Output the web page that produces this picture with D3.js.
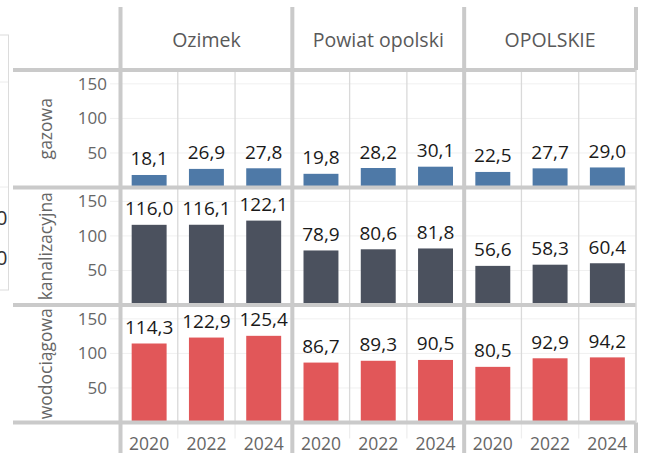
<!DOCTYPE html>
<html>
<head>
<meta charset="utf-8">
<script src="https://cdn.jsdelivr.net/npm/d3@7"></script>
<style>
  html, body { margin: 0; padding: 0; background: #ffffff; }
  svg { display: block; }
  text { font-family: "Open Sans", "Noto Sans", sans-serif; }
</style>
</head>
<body>
<svg id="chart" width="646" height="453"></svg>
<script>
// Długość sieci (km na 100 km²) – gmina, powiat, województwo
const regions = ["Ozimek", "Powiat opolski", "OPOLSKIE"];
const networks = ["gazowa", "kanalizacyjna", "wodociągowa"];
const years = ["2020", "2022", "2024"];
const yTicks = [50, 100, 150];

// values per region, in year order
const gazowa        = [[18.1, 26.9, 27.8], [19.8, 28.2, 30.1], [22.5, 27.7, 29.0]];
const kanalizacyjna = [[116.0, 116.1, 122.1], [78.9, 80.6, 81.8], [56.6, 58.3, 60.4]];
const wodociagowa   = [[114.3, 122.9, 125.4], [86.7, 89.3, 90.5], [80.5, 92.9, 94.2]];

const seriesByNetwork = [gazowa, kanalizacyjna, wodociagowa];
const barColors = ["#4e79a7", "#4b515e", "#e15759"];

const svg = d3.select("#chart");
const W = 646, H = 453;

// grid of panes
const paneLeft = 120.5, paneRight = 636;
const headerTop = 7, headerBottom = 70;
const rowH = 117.5;
const colX = d3.scaleBand().domain(regions).range([paneLeft, paneRight]);
const rowY = d3.scaleBand().domain(networks).range([headerBottom, headerBottom + rowH * 3]);
const gridBottom = headerBottom + rowH * 3;

const heavy = "#cacaca", thin = "#d9d9d9", faint = "#f0f0f0";
const fmt = d3.formatLocale({ decimal: ",", thousands: " ", grouping: [3], currency: ["", " zł"] }).format(".1f");

// panel partly visible on the left edge
const side = svg.append("g");
side.append("rect").attr("x", -20).attr("y", 35).attr("width", 28.5).attr("height", 255)
  .attr("fill", "#fff").attr("stroke", "#dcdcdc").attr("stroke-width", 1);
[82, 187].forEach(y => side.append("line").attr("x1", 0).attr("x2", 8).attr("y1", y).attr("y2", y)
  .attr("stroke", "#ececec"));
[218, 258].forEach(y => side.append("text").attr("x", 7.5).attr("y", y).attr("dy", "0.35em")
  .attr("text-anchor", "end").attr("font-size", 20).attr("fill", "#333").text("0"));

// per-row value scales
const y = d3.scaleLinear().domain([0, 170]).range([rowH, 0]);

networks.forEach((net, r) => {
  const top = rowY(net);
  const g = svg.append("g").attr("transform", `translate(0,${top})`);

  // light gridlines
  g.selectAll("line.grid").data(yTicks).join("line")
    .attr("x1", 110).attr("x2", paneRight)
    .attr("y1", d => y(d)).attr("y2", d => y(d))
    .attr("stroke", faint).attr("stroke-width", 1);

  // y axis
  const axis = g.append("g").attr("transform", `translate(107,0)`)
    .call(d3.axisLeft(y).tickValues(yTicks).tickSize(0).tickPadding(0));
  axis.select(".domain").remove();
  axis.selectAll("text").attr("font-size", 17).attr("fill", "#666666")
    .attr("font-family", "'Open Sans', sans-serif").attr("x", 0);

  // row label
  g.append("text")
    .attr("transform", `translate(46,${rowH / 2}) rotate(-90)`)
    .attr("text-anchor", "middle").attr("dy", "0.35em")
    .attr("font-size", 17.5).attr("fill", "#666666").text(net);

  regions.forEach((reg, c) => {
    const x = d3.scaleBand().domain(years)
      .range([colX(reg), colX(reg) + colX.bandwidth()])
      .paddingInner(0.39).paddingOuter(0.195);
    const vals = seriesByNetwork[r][c];

    // thin separators between years
    years.slice(1).forEach(yr => {
      const sx = x(yr) - x.step() * 0.39 / 2;
      g.append("line").attr("x1", sx).attr("x2", sx).attr("y1", 0).attr("y2", rowH)
        .attr("stroke", thin).attr("stroke-width", 1.3);
    });

    g.selectAll(`rect.b${c}`).data(vals).join("rect")
      .attr("x", (d, i) => x(years[i])).attr("width", x.bandwidth())
      .attr("y", d => y(d)).attr("height", d => y(0) - y(d))
      .attr("fill", barColors[r]);

    g.selectAll(`text.v${c}`).data(vals).join("text")
      .attr("x", (d, i) => x(years[i]) + x.bandwidth() / 2)
      .attr("y", d => y(d) - 9.5)
      .attr("text-anchor", "middle").attr("font-size", 19).attr("fill", "#1a1a1a")
      .text(d => fmt(d));
  });
});

// year labels along the bottom
regions.forEach(reg => {
  const x = d3.scaleBand().domain(years)
    .range([colX(reg), colX(reg) + colX.bandwidth()])
    .paddingInner(0.39).paddingOuter(0.195);
  years.slice(1).forEach(yr => {
    const sx = x(yr) - x.step() * 0.39 / 2;
    svg.append("line").attr("x1", sx).attr("x2", sx).attr("y1", gridBottom).attr("y2", gridBottom + 16)
      .attr("stroke", "#eeeeee").attr("stroke-width", 1.3);
  });
  svg.append("g").selectAll("text").data(years).join("text")
    .attr("x", d => x(d) + x.bandwidth() / 2).attr("y", 449.5)
    .attr("text-anchor", "middle").attr("font-size", 17.5).attr("fill", "#666666")
    .text(d => d);
});

// column headers
svg.append("g").selectAll("text").data(regions).join("text")
  .attr("x", d => colX(d) + colX.bandwidth() / 2).attr("y", 47)
  .attr("text-anchor", "middle").attr("font-size", 19.5).attr("fill", "#595959")
  .text(d => d);

// heavy frame lines
const frame = svg.append("g").attr("stroke", heavy).attr("stroke-width", 4);
[headerBottom, ...networks.map(n => rowY(n) + rowH)].forEach(yy =>
  frame.append("line").attr("x1", 13).attr("x2", paneRight).attr("y1", yy).attr("y2", yy));
regions.forEach(reg =>
  frame.append("line").attr("x1", colX(reg)).attr("x2", colX(reg)).attr("y1", headerTop).attr("y2", H));
// right edge: heavy in header and axis strip, thin along the panes
frame.append("line").attr("x1", paneRight).attr("x2", paneRight).attr("y1", headerTop).attr("y2", headerBottom);
frame.append("line").attr("x1", paneRight).attr("x2", paneRight).attr("y1", gridBottom).attr("y2", H);
svg.append("line").attr("x1", paneRight).attr("x2", paneRight).attr("y1", headerBottom).attr("y2", gridBottom)
  .attr("stroke", thin).attr("stroke-width", 1.5);
</script>
</body>
</html>
